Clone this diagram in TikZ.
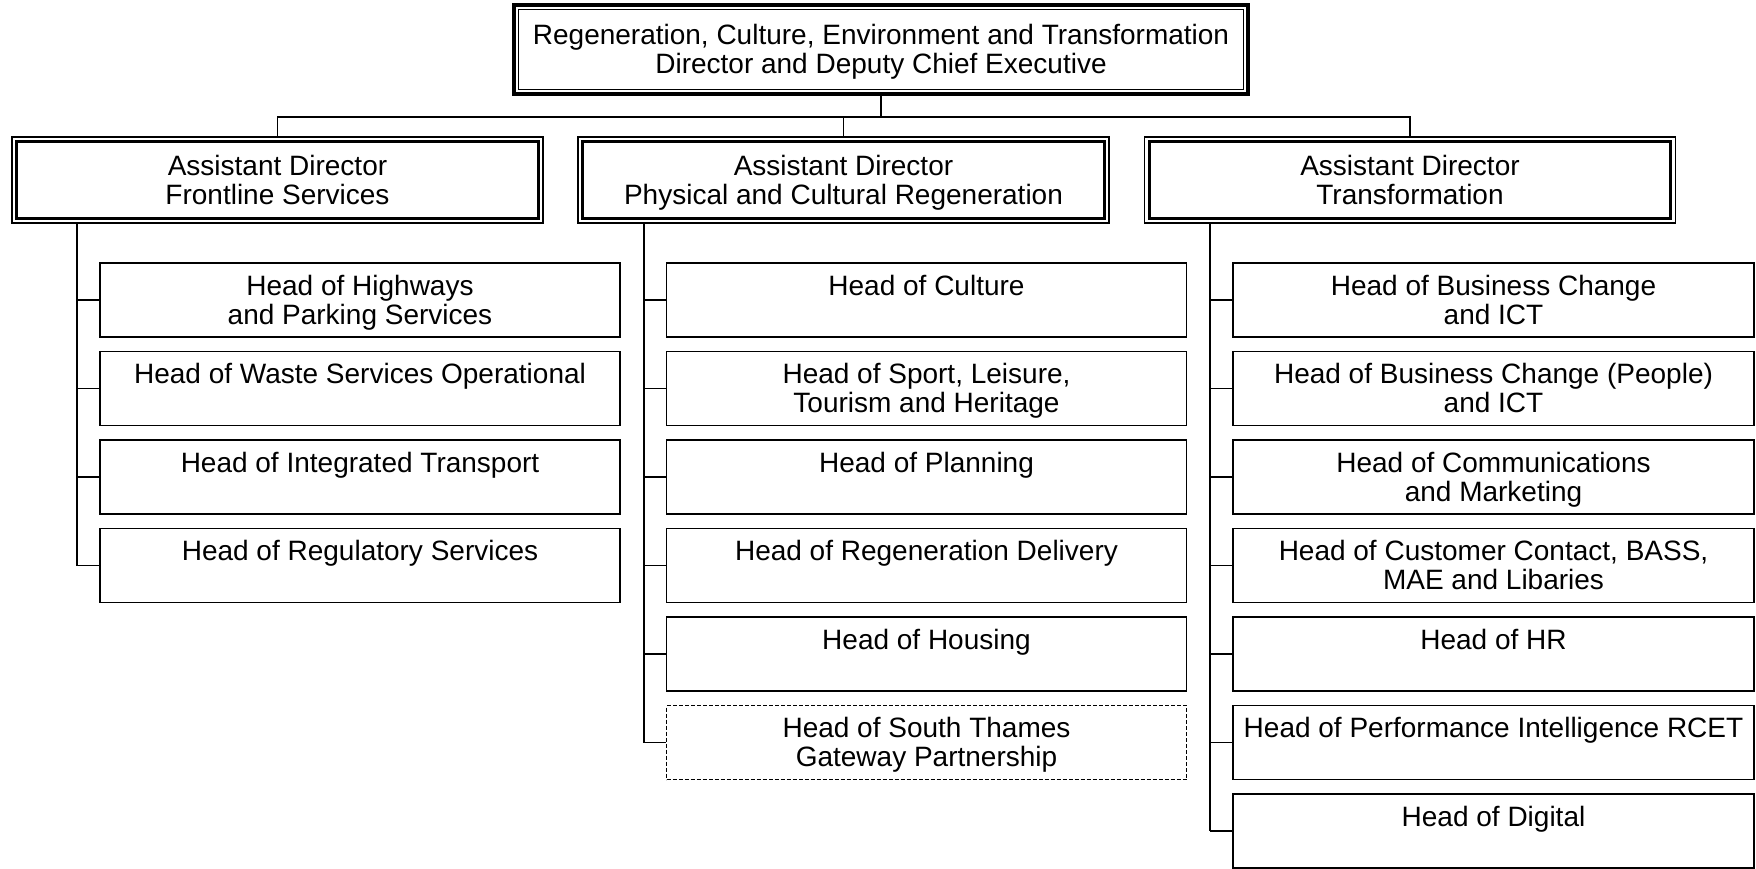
\documentclass[tikz,border=0pt]{standalone}
\usepackage{fontspec}
\setmainfont{Liberation Sans}
\usetikzlibrary{positioning}
\begin{document}
\begin{tikzpicture}[
    x=1pt, y=-1pt,
    every node/.style={font=\fontsize{28}{29}\selectfont, align=center, inner sep=0pt, text depth=1pt},
    topbox/.style={draw, line width=4.5pt, minimum width=734pt, minimum height=89pt},
    adbox/.style={draw, line width=1.3pt, minimum width=531pt, minimum height=86pt},
    headbox/.style={draw, line width=1.3pt, minimum width=520pt, minimum height=74pt},
    vacant/.style={headbox, line width=1pt, dash pattern=on 4pt off 2pt},
    link/.style={draw, line width=1.4pt}
]
\useasboundingbox (0,0) rectangle (1756,869);

% director
\node [topbox] (top) at (881,49.5) {Regeneration, Culture, Environment and Transformation\\Director and Deputy Chief Executive};
\draw [line width=1.3pt] ([shift={(7pt,-7pt)}]top.north west) rectangle ([shift={(-7pt,7pt)}]top.south east);

% assistant directors
\node [adbox] (ad1) at (277.5,180) {Assistant Director\\Frontline Services};
\node [adbox] (ad2) at (843.5,180) {Assistant Director\\Physical and Cultural Regeneration};
\node [adbox] (ad3) at (1410,180) {Assistant Director\\Transformation};
\foreach \col in {1,2,3}
    \draw [line width=3pt] ([shift={(5.5pt,-5pt)}]ad\col.north west) rectangle ([shift={(-5.5pt,5pt)}]ad\col.south east);

% heads of service
\foreach \txt [count=\r] in {Head of Highways\\and Parking Services, Head of Waste Services Operational\\~,
    Head of Integrated Transport\\~, Head of Regulatory Services\\~}
    \node [headbox] (h1\r) at (360,211.5+88.5*\r) {\txt};
\foreach \txt [count=\r] in {Head of Culture\\~, {Head of Sport, Leisure,\\Tourism and Heritage},
    Head of Planning\\~, Head of Regeneration Delivery\\~, Head of Housing\\~}
    \node [headbox] (h2\r) at (926.5,211.5+88.5*\r) {\txt};
\node [vacant] (h26) at (926.5,742.5) {Head of South Thames\\Gateway Partnership};
\foreach \txt [count=\r] in {Head of Business Change\\and ICT, Head of Business Change (People)\\and ICT,
    Head of Communications\\and Marketing, {Head of Customer Contact, BASS,\\MAE and Libaries},
    Head of HR\\~, Head of Performance Intelligence RCET\\~, Head of Digital\\~}
    \node [headbox, minimum width=521pt] (h3\r) at (1493.5,211.5+88.5*\r) {\txt};

% connectors
\coordinate (fork) at (881,117);
\coordinate (s1) at (77,0);
\coordinate (s2) at (644,0);
\coordinate (s3) at (1210,0);
\draw [link] (top.south) -- (fork);
\draw [link] (ad1.north) |- (fork) -| (ad3.north);
\draw [link] (ad2.north) -- (ad2.north |- fork);
\foreach \col/\n in {1/4, 2/6, 3/7} {
    \draw [link] (ad\col.south -| s\col) -- (s\col |- h\col\n.west);
    \foreach \r in {1,...,\n}
        \draw [link] (s\col |- h\col\r.west) -- (h\col\r.west);
}
\end{tikzpicture}
\end{document}
